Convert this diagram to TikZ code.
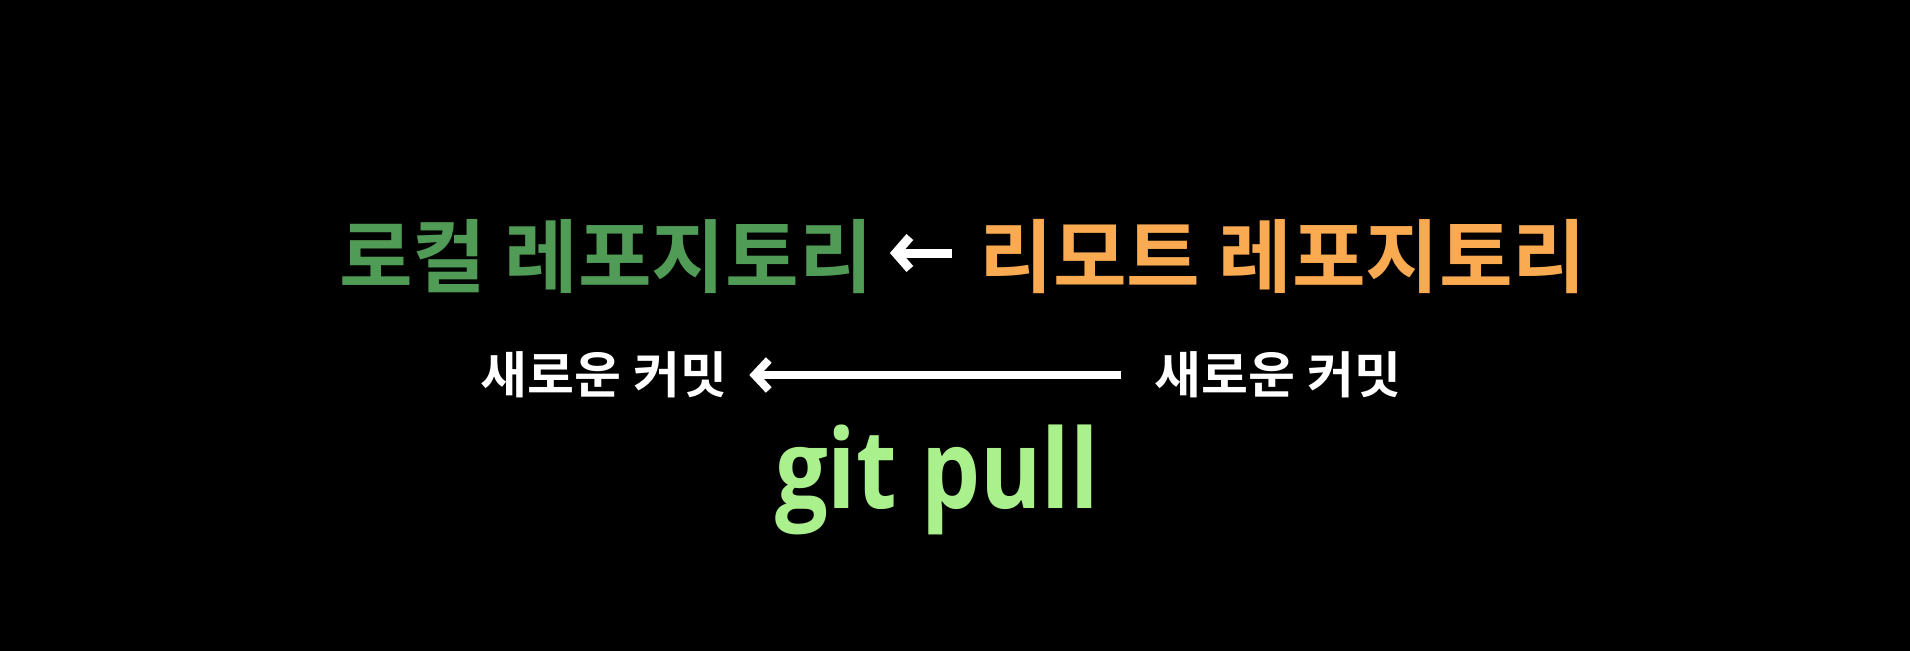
\documentclass[tikz,border=0pt]{standalone}
\usepackage{fontspec}
\newfontfamily\kr{Noto Sans CJK KR}[BoldFont={Noto Sans CJK KR Bold}]
\newfontfamily\lat{Open Sans}
\usetikzlibrary{arrows.meta}
\definecolor{localgreen}{RGB}{80,155,85}
\definecolor{remoteorange}{RGB}{250,170,80}
\definecolor{pullgreen}{RGB}{170,240,140}
\tikzset{
  title/.style={inner sep=0pt, anchor=base, font=\kr\bfseries\fontsize{80}{80}\selectfont, xscale=1.0},
  commit/.style={inner sep=0pt, anchor=base, text=white, font=\kr\bfseries\fontsize{50}{50}\selectfont, xscale=1.02},
  cmd/.style={inner sep=0pt, anchor=base, text=pullgreen, font=\lat\bfseries\fontsize{110}{110}\selectfont, xscale=0.85},
  bigarrow/.style={draw=white, line width=9pt, -{Straight Barb[length=14pt,width=32pt,line width=9pt]}},
  longarrow/.style={draw=white, line width=8pt, -{Straight Barb[length=14pt,width=30pt,line width=8pt]}}
}
\begin{document}
\begin{tikzpicture}[x=1pt,y=1pt]
\fill[black] (0,0) rectangle (1910,-651);
\useasboundingbox (0,0) rectangle (1910,-651);
\node[title, text=localgreen] (local) at (606,-286) {로컬 레포지토리};
\node[title, text=remoteorange] (remote) at (1283,-286) {리모트 레포지토리};
\node[commit] (newL) at (604,-393) {새로운 커밋};
\node[commit] (newR) at (1278,-393) {새로운 커밋};
\node[cmd] (pull) at (937,-508) {git pull};
\coordinate (topy) at (0,-253);
\coordinate (boty) at (0,-375);
\draw[bigarrow] ([xshift=-27pt]remote.west |- topy) -- ([xshift=17pt]local.east |- topy);
\draw[longarrow] ([xshift=-34pt]newR.west |- boty) -- ([xshift=22pt]newL.east |- boty);
\end{tikzpicture}
\end{document}
